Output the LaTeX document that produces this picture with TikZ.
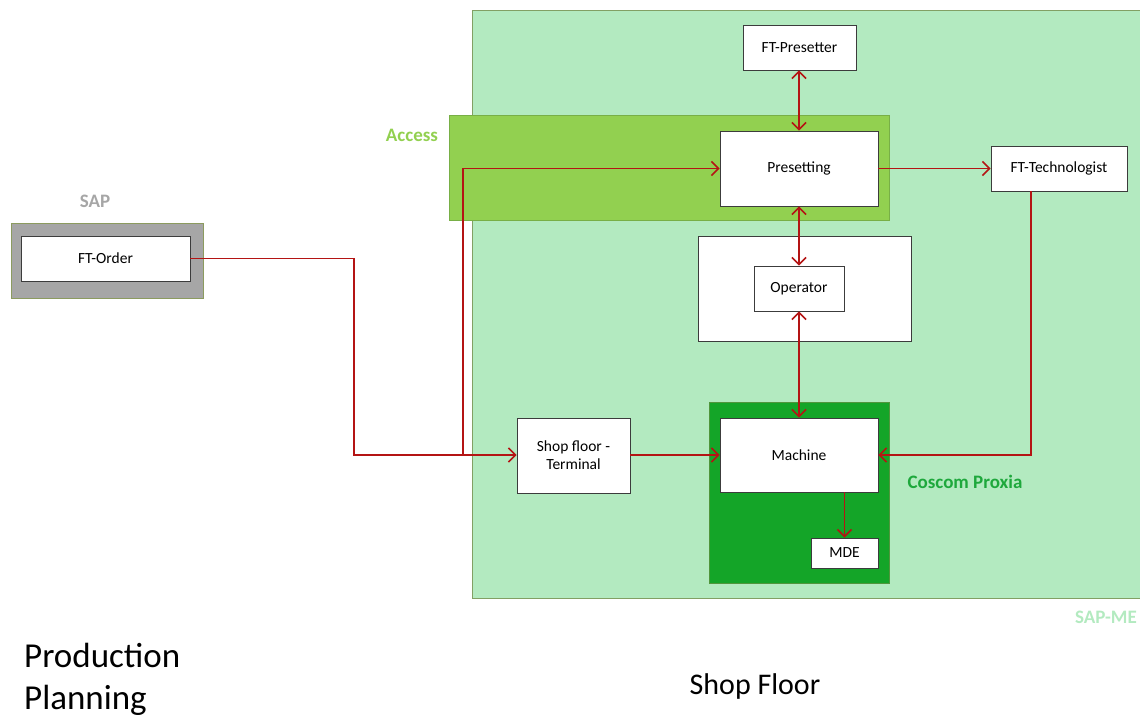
\documentclass[tikz,border=0pt]{standalone}
\usepackage{fontspec}
\setmainfont{Carlito}
\usetikzlibrary{arrows.meta}
\definecolor{sapme}{RGB}{179,234,192}
\definecolor{sapmeborder}{RGB}{130,160,100}
\definecolor{accessg}{RGB}{146,208,80}
\definecolor{accessborder}{RGB}{120,175,70}
\definecolor{coscom}{RGB}{20,165,40}
\definecolor{coscomborder}{RGB}{80,150,60}
\definecolor{coscomtext}{RGB}{30,168,60}
\definecolor{sapgray}{RGB}{166,166,166}
\definecolor{sapborder}{RGB}{140,155,95}
\definecolor{conncol}{RGB}{180,20,20}
\definecolor{boxline}{RGB}{60,60,60}
\tikzset{
  area/.style={draw, line width=1pt, inner sep=0pt, anchor=north west},
  wbox/.style={draw=boxline, fill=white, line width=0.8pt, inner sep=0pt, align=center, font=\fontsize{15.5}{18}\selectfont},
  lbl/.style={font=\bfseries\fontsize{19}{22}\selectfont, inner sep=0pt},
  big/.style={font=\fontsize{35}{42}\selectfont, inner sep=0pt, align=left},
  conn/.style={draw=conncol, line width=1.6pt, -{Straight Barb[length=7pt,width=14pt]}},
  biconn/.style={draw=conncol, line width=1.6pt, {Straight Barb[length=7pt,width=14pt]}-{Straight Barb[length=7pt,width=14pt]}},
  line/.style={draw=conncol, line width=1.6pt}
}
\begin{document}
\begin{tikzpicture}[x=1pt,y=-1pt]
\useasboundingbox (0,0) rectangle (1140,716);
% areas
\node[area, draw=sapmeborder, fill=sapme, minimum width=672, minimum height=588] (sapme) at (472,10) {};
\node[area, draw=accessborder, fill=accessg, minimum width=440, minimum height=105] (access) at (449,115) {};
\node[area, draw=coscomborder, fill=coscom, minimum width=180, minimum height=181] (coscombox) at (709,402) {};
\node[area, draw=sapborder, fill=sapgray, minimum width=192, minimum height=75] (sapbox) at (11,223) {};
\node[area, draw=boxline, fill=white, line width=0.8pt, minimum width=213, minimum height=105] (opouter) at (698,236) {};
% area labels
\node[lbl, text=sapgray] (saplbl) at (95,201) {SAP};
\node[lbl, text=accessg] (accesslbl) at (412,135) {Access};
\node[lbl, text=coscomtext] (coscomlbl) at (965,482) {Coscom Proxia};
\node[lbl, text=sapme] (sapmelbl) at (1106,617) {SAP-ME};
% boxes
\node[wbox, minimum width=169, minimum height=45] (ftorder) at (105.5,258.5) {FT-Order};
\node[wbox, minimum width=113, minimum height=45] (ftpresetter) at (799.5,47.5) {FT-Presetter};
\node[wbox, minimum width=158, minimum height=75] (presetting) at (799,168.5) {Presetting};
\node[wbox, minimum width=136, minimum height=45] (fttech) at (1059,168.5) {FT-Technologist};
\node[wbox, minimum width=90, minimum height=45] (operator) at (799,288.5) {Operator};
\node[wbox, minimum width=158, minimum height=74] (machine) at (799,455) {Machine};
\node[wbox, minimum width=67, minimum height=30] (mde) at (844.5,553) {MDE};
\node[wbox, minimum width=113, minimum height=75] (shopfloor) at (573.5,455.5) {Shop floor -\\Terminal};
% bottom texts
\node[big, anchor=west] (prodplan) at (24,679) {Production\\Planning};
\node[big, font=\fontsize{30}{36}\selectfont] (shopfloortxt) at (755,686) {Shop Floor};
% junctions
\coordinate (j1) at (354,258.5);
\coordinate (j2) at (354,455);
\coordinate (j3) at (463,455);
\coordinate (j4) at (463,168.5);
\coordinate (j5) at (1031,455);
% connectors
\draw[line] (ftorder.east) -- (j1) -- (j2) -- (j3);
\draw[conn] (j3) -- (j3 -| shopfloor.west);
\draw[conn] (j3) -- (j4) -- (j4 -| presetting.west);
\draw[conn] (presetting.east) -- (fttech.west);
\draw[conn] (fttech.south -| j5) -- (j5) -- (j5 -| machine.east);
\draw[conn] (shopfloor.east |- machine.west) -- (machine.west);
\draw[biconn] (ftpresetter.south -| presetting.north) -- (presetting.north);
\draw[biconn] (presetting.south) -- (operator.north);
\draw[biconn] (operator.south) -- (machine.north);
\draw[conn] (machine.south -| mde.north) -- (mde.north);
\end{tikzpicture}
\end{document}
